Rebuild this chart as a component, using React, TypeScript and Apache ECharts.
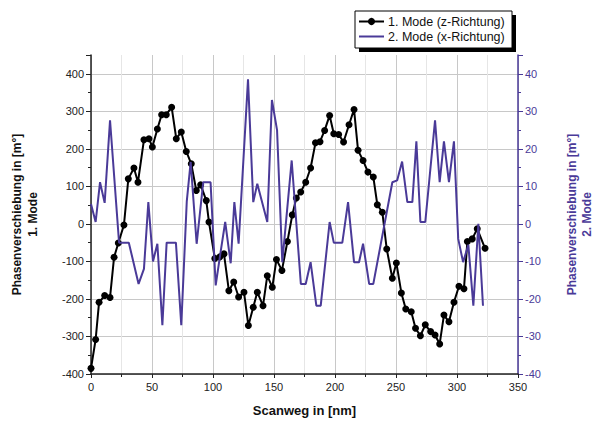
import React, { useEffect, useRef } from "react";
import * as echarts from "echarts";

const mode1Name = "1. Mode (z-Richtung)";
const mode2Name = "2. Mode (x-Richtung)";

// [Scanweg nm, Phase m°] – 1. Mode (left axis)
const mode1: [number, number][] = [
  [0, -385], [3.8, -308], [6.6, -209], [11.2, -191], [15.6, -196], [18.9, -89],
  [22.4, -51], [27, -3], [30.6, 120], [35.2, 149], [38.5, 111], [43.4, 224],
  [47.5, 227], [50.3, 205], [54.4, 253], [57.9, 291], [61.7, 291], [66.1, 311],
  [69.9, 227], [74, 245], [78.1, 193], [82.2, 160], [86.3, 89], [89.9, 104],
  [94.5, 62], [96.7, 5], [101.5, -92], [105.5, -88], [109, -80], [113, -178],
  [117, -155], [121, -195], [125.4, -182], [129, -271], [133, -222], [136.3, -182],
  [141, -218], [144.5, -138], [148.6, -169], [152, -95], [156.5, -124], [161, -47],
  [165, 24], [168.3, 69], [171.9, 85], [176, 111], [180, 149], [184, 216],
  [187.7, 219], [191.5, 249], [195.6, 289], [199, 240], [203, 238], [207, 218],
  [211.5, 264], [215.6, 305], [218.9, 196], [223, 169], [227, 138], [231.4, 125],
  [234.7, 51], [238.8, 31], [242.4, -67], [247, -145], [250.3, -104], [254.4, -184],
  [258, -227], [262.5, -234], [266, -278], [270, -298], [274, -269], [278.4, -287],
  [282, -296], [285.8, -320], [289.3, -243], [293.4, -261], [297.5, -209], [301.6, -166],
  [305.7, -173], [308.5, -47], [312.5, -40], [316.6, -13], [323, -65],
];

// [Scanweg nm, Phase m°] – 2. Mode (right axis)
const mode2: [number, number][] = [
  [0, 5.3], [3.8, 0.5], [7.4, 11.1], [11.2, 5.6], [15.6, 27.6], [23, -5],
  [31, -5], [39, -16], [43.4, -12], [47, 5.8], [50.8, -10], [54.4, -5.3],
  [58.5, -27], [62, -5], [69.6, -5], [74, -27], [78.5, 6], [81.7, 16.5],
  [86.6, -5.3], [92, 11.1], [98, 11.1], [102.2, -16.4], [106, -8], [110, 0.5],
  [114.5, -10.5], [117.5, 5.8], [121, -5.3], [128.7, 38.5], [133, 5.8], [136.3, 10.7],
  [144.5, 0.5], [148.3, 33], [152.5, 25], [156.8, -10.2], [164.5, 16.9], [172, -16],
  [176, -16], [180, -10.2], [184.7, -21.8], [188.3, -21.8], [195.6, 0.5], [199, -5],
  [206, -5], [210.7, 5.8], [215.6, -10.2], [219.7, -10.2], [223, -5.3], [228, -16],
  [231.4, -16], [247, 11.1], [251, 11.6], [255, 16.6], [259.3, 5.8], [263.4, 5.8],
  [266.7, 22], [270, 0.5], [274, 0.5], [282, 27.6], [285.8, 11.1], [289.3, 22],
  [293.4, 11.1], [297.5, 22], [301, -4], [305, -10.2], [309.3, -5.6], [313.4, -21.8],
  [317.5, 0], [321.3, -21.8],
];

const xName = "Scanweg in [nm]";
const yLeftName = "Phasenverschiebung in [m°]\n1. Mode";
const yRightName = "Phasenverschiebung in [m°]\n2. Mode";

const PURPLE = "#4a3a98";
const FONT = "Liberation Sans, Arial, sans-serif";

export default function App() {
  const ref = useRef<HTMLDivElement>(null);
  useEffect(() => {
    if (!ref.current) return;
    const chart = echarts.init(ref.current, undefined, { renderer: "svg" });
    chart.setOption({
      animation: false,
      backgroundColor: "#fff",
      textStyle: { fontFamily: FONT },
      grid: { left: 91, right: 79, top: 55, bottom: 49, containLabel: false, outerBoundsMode: "none" },
      graphic: [
        { type: "rect", z: 0, shape: { x: 359, y: 15, width: 157, height: 37 }, style: { fill: "#000" } },
        { type: "rect", z: 1, shape: { x: 355, y: 11, width: 157, height: 37 }, style: { fill: "#fff", stroke: "#000", lineWidth: 1 } },
      ],
      legend: {
        z: 10,
        left: 358,
        top: 15,
        orient: "vertical",
        itemGap: 2,
        itemWidth: 25,
        itemHeight: 9,
        padding: 0,
        textStyle: { fontFamily: FONT, fontSize: 12.5, color: "#111", padding: [0, 0, 0, -1] },
        data: [
          { name: mode1Name },
          { name: mode2Name, icon: "path://M0,0 L25,0 L25,2 L0,2 Z" },
        ],
      },
      xAxis: {
        type: "value",
        min: 0,
        max: 350,
        interval: 50,
        name: xName,
        nameLocation: "middle",
        nameGap: 30,
        nameTextStyle: { fontFamily: FONT, fontSize: 13, fontWeight: "bold", color: "#111" },
        axisLine: { show: true, onZero: false, lineStyle: { color: "#222", width: 1.5 } },
        axisTick: { show: true, inside: false, length: 4, lineStyle: { color: "#222" } },
        minorTick: { show: true, splitNumber: 2, length: 3, lineStyle: { color: "#222" } },
        axisLabel: { fontFamily: FONT, fontSize: 11, color: "#222", margin: 7 },
        splitLine: { show: true, lineStyle: { color: "#c8c8c8", width: 1 } },
        minorSplitLine: { show: true, lineStyle: { color: "#e6e6e6", width: 1 } },
      },
      yAxis: [
        {
          type: "value",
          position: "left",
          min: -400,
          max: 450,
          interval: 100,
          name: yLeftName,
          nameLocation: "middle",
          nameRotate: 90,
          nameGap: 50,
          nameTextStyle: { fontFamily: FONT, fontSize: 12, fontWeight: "bold", color: "#111", lineHeight: 16 },
          axisLine: { show: true, onZero: false, lineStyle: { color: "#222", width: 1.5 } },
          axisTick: { show: true, length: 5, lineStyle: { color: "#222" } },
          minorTick: { show: true, splitNumber: 2, length: 3, lineStyle: { color: "#222" } },
          axisLabel: { fontFamily: FONT, fontSize: 11, color: "#222", margin: 7, showMaxLabel: false },
          splitLine: { show: true, showMaxLine: false, lineStyle: { color: "#c8c8c8", width: 1 } },
        },
        {
          type: "value",
          position: "right",
          min: -40,
          max: 45,
          interval: 10,
          name: yRightName,
          nameLocation: "middle",
          nameRotate: 90,
          nameGap: 46,
          nameTextStyle: { fontFamily: FONT, fontSize: 12, fontWeight: "bold", color: PURPLE, lineHeight: 15 },
          axisLine: { show: true, onZero: false, lineStyle: { color: PURPLE, width: 1.5 } },
          axisTick: { show: true, length: 5, lineStyle: { color: PURPLE } },
          minorTick: { show: true, splitNumber: 2, length: 3, lineStyle: { color: PURPLE } },
          axisLabel: { fontFamily: FONT, fontSize: 11, color: PURPLE, margin: 7, showMaxLabel: false },
          splitLine: { show: false },
        },
      ],
      series: [
        {
          name: mode1Name,
          type: "line",
          yAxisIndex: 0,
          data: mode1,
          symbol: "circle",
          symbolSize: 7,
          showSymbol: true,
          itemStyle: { color: "#000" },
          lineStyle: { color: "#000", width: 2 },
          z: 2,
        },
        {
          name: mode2Name,
          type: "line",
          yAxisIndex: 1,
          data: mode2,
          symbol: "none",
          itemStyle: { color: PURPLE },
          lineStyle: { color: PURPLE, width: 2 },
          z: 3,
        },
      ],
    });
    return () => chart.dispose();
  }, []);
  return (
    <div
      ref={ref}
      style={{ position: "absolute", left: 0, top: 0, width: 597, height: 423 }}
    />
  );
}
